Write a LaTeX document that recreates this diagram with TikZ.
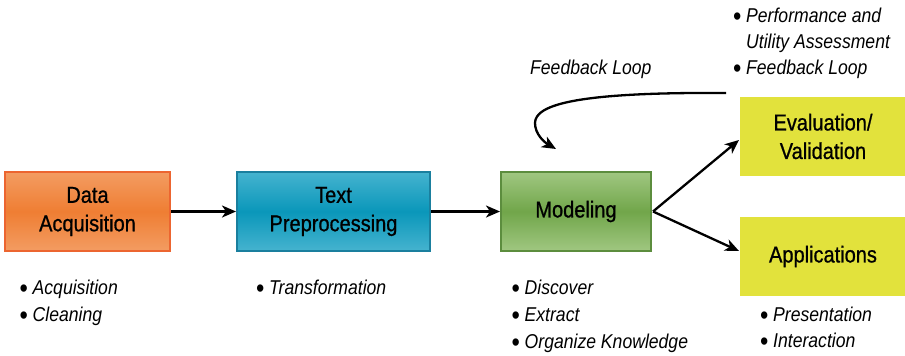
\documentclass[tikz,border=0pt]{standalone}
\usepackage{fontspec}
\setmainfont{Liberation Sans}[FakeStretch=0.88]
\newfontfamily\boxfont{Liberation Sans}[FakeStretch=0.87,FakeBold=0.8]
\usetikzlibrary{arrows.meta}
\definecolor{orL}{HTML}{F39C62}
\definecolor{orM}{HTML}{EF7E33}
\definecolor{orB}{HTML}{EC6530}
\definecolor{teL}{HTML}{45B3CF}
\definecolor{teM}{HTML}{0A97BA}
\definecolor{teB}{HTML}{1A7F9E}
\definecolor{grL}{HTML}{A0C781}
\definecolor{grM}{HTML}{71A64A}
\definecolor{grB}{HTML}{5C8D3E}
\definecolor{yel}{HTML}{E2E23C}
\newcommand{\bul}[1]{\makebox[13pt][l]{\upshape\raisebox{-3.6pt}{\scalebox{1.35}{\textbullet}}}#1}
\begin{document}
\begin{tikzpicture}[x=1pt,y=-1pt,
  box/.style={line width=2pt, align=center, inner sep=0pt,
    font=\boxfont\fontsize{23}{28.5}\selectfont},
  bl/.style={anchor=base west, inner sep=0pt, font=\fontsize{20}{27}\selectfont\itshape},
  arr/.style={line width=2.3pt, -{Stealth[length=14pt,width=12pt,inset=4pt]}}]
\useasboundingbox (0,0) rectangle (905,356);
\fill[white] (0,0) rectangle (905,356);
% boxes
\node[box, draw=orB, top color=orL, bottom color=orL, middle color=orM,
  minimum width=165pt, minimum height=79pt] (da) at (87.5,211.5) {Data\\Acquisition};
\node[box, draw=teB, top color=teL, bottom color=teL, middle color=teM,
  minimum width=193pt, minimum height=79pt] (tp) at (333.5,211.5) {Text\\Preprocessing};
\node[box, draw=grB, top color=grL, bottom color=grL, middle color=grM,
  minimum width=150pt, minimum height=79pt] (mod) at (576,211.5) {Modeling};
\node[box, fill=yel, minimum width=166pt, minimum height=79pt] (ev) at (823,136.5) {Evaluation/\\Validation};
\node[box, fill=yel, minimum width=166pt, minimum height=79pt] (app) at (823,256.5) {Applications};
% arrows
\draw[arr] (da.east) -- (tp.west);
\draw[arr] (tp.east) -- (mod.west);
\coordinate (mo) at ([xshift=1pt]mod.east);
\coordinate (evin) at ([yshift=-3.5pt]ev.west);
\coordinate (appin) at ([yshift=5.5pt]app.west);
\draw[arr] (mo) -- (evin);
\draw[arr] (mo) -- (appin);
% feedback loop
\coordinate (fbs) at (726,93);
\coordinate (fbm) at (535,123);
\coordinate (fbe) at (556,149);
\draw[arr] (fbs) .. controls (580,92) and (535,104) .. (fbm)
  .. controls (535,134) and (544,142) .. (fbe);
\node[bl] (fbl) at (530,74) {Feedback Loop};
% bullet lists
\node[bl] (t1) at (733,22) {\bul{Performance and}};
\node[bl] (t2) at (746,48) {Utility Assessment};
\node[bl] (t3) at (733,74) {\bul{Feedback Loop}};
\node[bl] (a1) at (19.5,294) {\bul{Acquisition}};
\node[bl] (a2) at (19.5,321) {\bul{Cleaning}};
\node[bl] (p1) at (256,294) {\bul{Transformation}};
\node[bl] (m1) at (511.5,294) {\bul{Discover}};
\node[bl] (m2) at (511.5,321) {\bul{Extract}};
\node[bl] (m3) at (511.5,348) {\bul{Organize Knowledge}};
\node[bl] (ap1) at (760,321) {\bul{Presentation}};
\node[bl] (ap2) at (760,347) {\bul{Interaction}};
\end{tikzpicture}
\end{document}
